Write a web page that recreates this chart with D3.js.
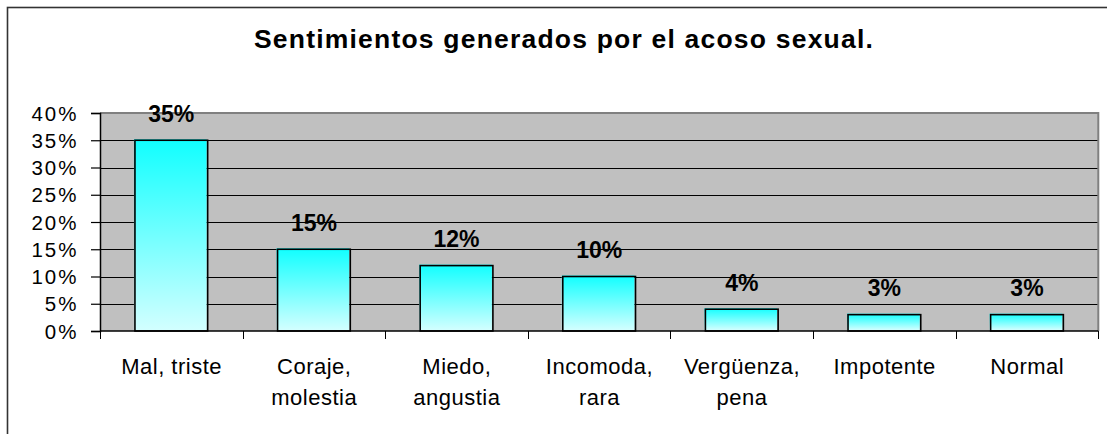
<!DOCTYPE html>
<html>
<head>
<meta charset="utf-8">
<script src="https://cdn.jsdelivr.net/npm/d3@7"></script>
<style>
	html, body { margin: 0; padding: 0; background: #fff; }
	svg { display: block; font-family: "Liberation Sans", Arial, sans-serif; }
</style>
</head>
<body>
<div class="chart"></div>
<script>
// data
var title = "Sentimientos generados por el acoso sexual.";
var categories = ["Mal, triste", "Coraje,\nmolestia", "Miedo,\nangustia", "Incomoda,\nrara", "Vergüenza,\npena", "Impotente", "Normal"];
var values = [0.35, 0.15, 0.12, 0.10, 0.04, 0.03, 0.03];
var yTicks = [0, 0.05, 0.10, 0.15, 0.20, 0.25, 0.30, 0.35, 0.40];

(function() {
	var width = 1107,
		height = 434;

	var plot = { left: 100, right: 1098.3, top: 113, bottom: 331 };

	var svg = d3.select(".chart").append("svg")
		.attr("width", width)
		.attr("height", height);

	// gradient for the bars (one per bar, bounding box units)
	var grad = svg.append("defs").append("linearGradient")
		.attr("id", "barfill")
		.attr("x1", 0).attr("y1", 0)
		.attr("x2", 0).attr("y2", 1);
	grad.append("stop").attr("offset", "0%").attr("stop-color", "#10ffff");
	grad.append("stop").attr("offset", "100%").attr("stop-color", "#d2ffff");

	// outer chart border (runs off the right and bottom of the picture)
	svg.append("rect")
		.attr("x", 7.5).attr("y", 7.5)
		.attr("width", 1200).attr("height", 500)
		.attr("fill", "#fff")
		.attr("stroke", "#333")
		.attr("stroke-width", 1.6);

	// title
	svg.append("text")
		.attr("x", 564)
		.attr("y", 48)
		.attr("text-anchor", "middle")
		.style("font-size", "26.5px")
		.style("font-weight", "bold")
		.style("letter-spacing", "1.2px")
		.text(title);

	var x = d3.scaleBand()
		.domain(categories)
		.range([plot.left, plot.right])
		.padding(0);

	var y = d3.scaleLinear()
		.domain([0, 0.4])
		.range([plot.bottom, plot.top]);

	var barW = x.bandwidth() * 0.51;

	// plot area
	svg.append("rect")
		.attr("x", plot.left).attr("y", plot.top)
		.attr("width", plot.right - plot.left)
		.attr("height", plot.bottom - plot.top)
		.attr("fill", "#c0c0c0");

	// gridlines
	svg.append("g")
		.selectAll("line")
		.data(yTicks.slice(1, -1))
		.enter().append("line")
		.attr("x1", plot.left).attr("x2", plot.right)
		.attr("y1", function(d) { return Math.round(y(d)) + 0.5; })
		.attr("y2", function(d) { return Math.round(y(d)) + 0.5; })
		.attr("stroke", "#000")
		.attr("stroke-width", 1);

	// plot border top and right
	svg.append("path")
		.attr("d", "M" + plot.left + "," + plot.top + "H" + plot.right + "V" + plot.bottom)
		.attr("fill", "none")
		.attr("stroke", "#808080")
		.attr("stroke-width", 2);

	// bars
	var bars = svg.append("g").selectAll("g")
		.data(values)
		.enter().append("g");

	bars.append("rect")
		.attr("x", function(d, i) { return x(categories[i]) + (x.bandwidth() - barW) / 2 - 1; })
		.attr("y", function(d) { return y(d) - 1; })
		.attr("width", barW)
		.attr("height", function(d) { return y(0) - y(d); })
		.attr("fill", "url(#barfill)");

	bars.append("rect")
		.attr("x", function(d, i) { return x(categories[i]) + (x.bandwidth() - barW) / 2; })
		.attr("y", function(d) { return y(d); })
		.attr("width", barW)
		.attr("height", function(d) { return y(0) - y(d); })
		.attr("fill", "none")
		.attr("stroke", "#000")
		.attr("stroke-width", 1.6);

	// value labels
	bars.append("text")
		.attr("x", function(d, i) { return x(categories[i]) + x.bandwidth() / 2; })
		.attr("y", function(d) { return y(d) - 18.5; })
		.attr("text-anchor", "middle")
		.style("font-size", "23px")
		.style("font-weight", "bold")
		.text(function(d) { return Math.round(d * 100) + "%"; });

	// y axis
	var yAxis = d3.axisLeft(y)
		.tickValues(yTicks)
		.tickSize(9)
		.tickPadding(12.5)
		.tickFormat(d3.format(".0%"));

	var gy = svg.append("g")
		.attr("transform", "translate(" + plot.left + ",0)")
		.call(yAxis);
	gy.select(".domain").attr("stroke", "#000").attr("stroke-width", 1.5);
	gy.selectAll(".tick line").attr("stroke", "#000").attr("stroke-width", 1.2);
	gy.selectAll(".tick text")
		.attr("dy", "7")
		.style("font-size", "20.5px")
		.style("letter-spacing", "2px")
		.attr("fill", "#000")
		.style("font-family", "'Liberation Sans', Arial, sans-serif");

	// x axis (ticks at category boundaries)
	var gx = svg.append("g")
		.attr("transform", "translate(0," + plot.bottom + ")");
	gx.append("line")
		.attr("x1", plot.left).attr("x2", plot.right)
		.attr("stroke", "#000").attr("stroke-width", 1.5);
	gx.selectAll("line.tk")
		.data(categories.concat([null]))
		.enter().append("line")
		.attr("class", "tk")
		.attr("x1", function(d, i) { return Math.round(plot.left + i * x.step()) + 0.5; })
		.attr("x2", function(d, i) { return Math.round(plot.left + i * x.step()) + 0.5; })
		.attr("y1", 0).attr("y2", 8)
		.attr("stroke", "#000").attr("stroke-width", 1);

	// category labels
	var lab = gx.selectAll("text")
		.data(categories)
		.enter().append("text")
		.attr("text-anchor", "middle")
		.style("font-size", "22px")
		.style("letter-spacing", "0.5px")
		.attr("transform", function(d) { return "translate(" + (x(d) + x.bandwidth() / 2 + 0.3) + ",43)"; });

	lab.selectAll("tspan")
		.data(function(d) { return d.split("\n"); })
		.enter().append("tspan")
		.attr("x", 0)
		.attr("y", function(d, i) { return i * 31; })
		.text(function(d) { return d; });
})();
</script>
</body>
</html>
